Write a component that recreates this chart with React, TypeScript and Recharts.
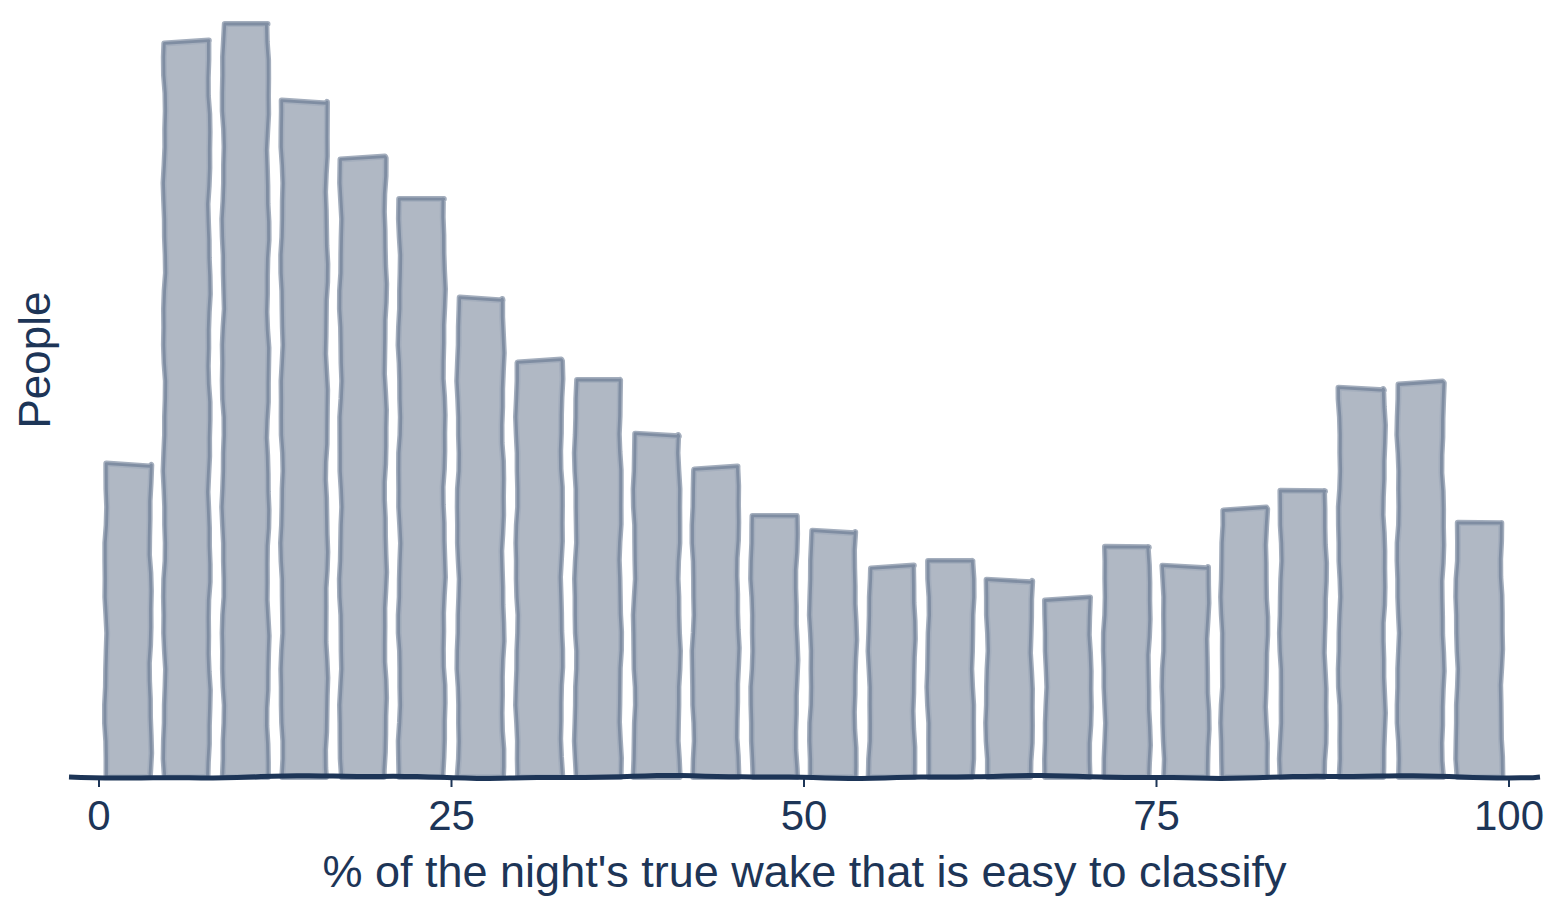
import React from 'react';
import { BarChart, Bar, XAxis, YAxis, ReferenceLine } from 'recharts';

// histogram bins: 24 equal bins across 0–100 %
const binStarts = [
  0, 4.17, 8.33, 12.5, 16.67, 20.83, 25, 29.17, 33.33, 37.5, 41.67, 45.83,
  50, 54.17, 58.33, 62.5, 66.67, 70.83, 75, 79.17, 83.33, 87.5, 91.67, 95.83,
];
const people = [
  312, 735, 753, 675, 619, 578, 478, 416, 397, 342, 309, 261,
  245, 210, 216, 196, 178, 230, 210, 268, 286, 388, 394, 254,
];
const xTicks = [0, 25, 50, 75, 100];
const binWidth = 100 / 24;

const data = binStarts.map((start, i) => ({
  bin: String(start),
  mid: start + binWidth / 2,
  people: people[i],
}));

const NAVY = '#1d3557';
const FONT = '"Liberation Sans", Arial, Helvetica, sans-serif';

// smooth hand-drawn wobble, deterministic per bar
const wobble = (t: number, seed: number, amp: number) =>
  amp * (Math.sin(t * 0.045 + seed * 1.7) * 0.7 + Math.sin(t * 0.11 + seed * 4.3) * 0.3);

const sketchPath = (x: number, y: number, w: number, h: number, seed: number) => {
  const pts: [number, number][] = [];
  const step = 18;
  // left edge, bottom -> top
  for (let t = 0; t <= h; t += step) {
    pts.push([x + wobble(t, seed, 1.3), y + h - t]);
  }
  const tilt = Math.sin(seed * 2.1) * 1.6;
  pts.push([x + wobble(h, seed, 1.3), y - tilt]);
  pts.push([x + w, y + tilt]);
  // right edge, top -> bottom
  for (let t = 0; t <= h; t += step) {
    pts.push([x + w + wobble(t, seed + 11, 1.3), y + t]);
  }
  pts.push([x + w + wobble(h, seed + 11, 1.3), y + h]);
  return 'M' + pts.map(p => `${p[0].toFixed(1)},${p[1].toFixed(1)}`).join(' L') + ' Z';
};

const SketchBar = (props: any) => {
  const { x, y, width, height, index } = props;
  if (!height || height <= 0) return null;
  const d = sketchPath(x, y, width, height, index + 1);
  return (
    <g>
      <path d={d} fill="#b0b8c4" stroke="#a4aebd" strokeWidth={6} strokeLinejoin="round" />
      <path d={d} fill="none" stroke="#7f8da2" strokeWidth={2.8} strokeLinejoin="round" />
    </g>
  );
};

const SketchAxisLine = (props: any) => {
  const { x1, x2, y1 } = props;
  const pts: string[] = [];
  for (let x = x1; x <= x2; x += 12) {
    const dy = Math.sin((x - x1) * 0.018) * 1.1 + Math.sin((x - x1) * 0.05) * 0.4;
    pts.push(`${x.toFixed(1)},${(y1 + dy).toFixed(1)}`);
  }
  pts.push(`${x2},${y1}`);
  return <path d={'M' + pts.join(' L')} fill="none" stroke={NAVY} strokeWidth={5} strokeLinecap="butt" />;
};

const XLabel = (props: any) => {
  const vb = props.viewBox;
  return (
    <text x={vb.x + vb.width / 2} y={vb.y + 110} textAnchor="middle" fill={NAVY} fontFamily={FONT} fontSize={45}>
      % of the night's true wake that is easy to classify
    </text>
  );
};

const YLabel = () => (
  <text x={50} y={360} transform="rotate(-90 50 360)" textAnchor="middle" fill={NAVY} fontFamily={FONT} fontSize={44}>
    People
  </text>
);

export default function App() {
  return (
    <div style={{ position: 'absolute', left: 0, top: 0, width: 1564, height: 899, background: '#fff' }}>
      <BarChart width={1564} height={899} data={data} margin={{ top: 14, right: 24, bottom: 0, left: 0 }} barSize={44}>
        <XAxis xAxisId="bins" dataKey="bin" hide height={0} padding={{ left: 30, right: 31 }} />
        <XAxis
          xAxisId="pct"
          dataKey="mid"
          type="number"
          domain={[0, 100]}
          allowDataOverflow
          ticks={xTicks}
          padding={{ left: 30, right: 31 }}
          height={122}
          axisLine={false}
          tickSize={10}
          tickLine={{ stroke: NAVY, strokeWidth: 2 }}
          tickMargin={13}
          tick={{ fill: NAVY, fontSize: 42, fontFamily: FONT }}
          interval={0}
          label={{ content: XLabel }}
        />
        <YAxis
          width={69}
          domain={[0, 763]}
          tick={false}
          axisLine={false}
          tickLine={false}
          label={{ content: YLabel }}
        />
        <Bar dataKey="people" xAxisId="bins" shape={SketchBar} isAnimationActive={false} />
        <ReferenceLine y={0} xAxisId="pct" shape={SketchAxisLine} />
      </BarChart>
    </div>
  );
}
